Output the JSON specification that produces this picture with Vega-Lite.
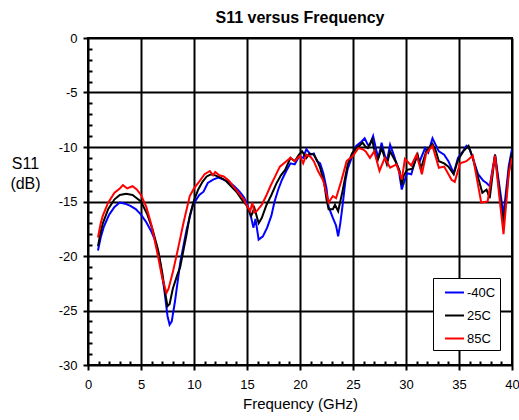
{
  "$schema": "https://vega.github.io/schema/vega-lite/v6.json",
  "width": 424,
  "height": 327,
  "autosize": "none",
  "padding": {"left": 88, "top": 38, "right": 7, "bottom": 55},
  "config": {
    "view": {"stroke": "black", "strokeWidth": 2},
    "font": "Liberation Sans",
    "axis": {"labelFont": "Liberation Sans", "titleFont": "Liberation Sans", "labelColor": "black", "titleColor": "black", "labelFontSize": 13, "titleFontSize": 15, "titleFontWeight": "normal", "domain": false, "tickColor": "black", "gridColor": "black", "gridWidth": 2, "labelOverlap": false, "labelFlush": false, "labelBound": false}
  },
  "title": {"text": "S11 versus Frequency", "fontSize": 16, "fontWeight": "bold", "font": "Liberation Sans", "color": "black", "offset": 6, "anchor": "middle"},
  "data": {"values": [
    {"t":"-40C","f":0.94,"s":-19.5},{"t":"-40C","f":1.2,"s":-18.3},{"t":"-40C","f":1.5,"s":-17.3},{"t":"-40C","f":2.0,"s":-16.2},{"t":"-40C","f":2.5,"s":-15.5},{"t":"-40C","f":3.0,"s":-15.1},{"t":"-40C","f":3.5,"s":-15.2},{"t":"-40C","f":4.0,"s":-15.4},{"t":"-40C","f":4.5,"s":-15.7},{"t":"-40C","f":5.0,"s":-16.2},{"t":"-40C","f":5.5,"s":-16.9},{"t":"-40C","f":6.0,"s":-17.8},{"t":"-40C","f":6.3,"s":-18.5},{"t":"-40C","f":6.7,"s":-20.0},{"t":"-40C","f":7.0,"s":-21.8},{"t":"-40C","f":7.2,"s":-23.1},{"t":"-40C","f":7.5,"s":-25.5},{"t":"-40C","f":7.7,"s":-26.3},{"t":"-40C","f":7.9,"s":-26.0},{"t":"-40C","f":8.2,"s":-24.2},{"t":"-40C","f":8.7,"s":-20.6},{"t":"-40C","f":9.3,"s":-17.6},{"t":"-40C","f":9.9,"s":-15.3},{"t":"-40C","f":10.5,"s":-14.4},{"t":"-40C","f":10.9,"s":-14.1},{"t":"-40C","f":11.3,"s":-13.3},{"t":"-40C","f":11.8,"s":-13.0},{"t":"-40C","f":12.3,"s":-12.8},{"t":"-40C","f":12.8,"s":-13.0},{"t":"-40C","f":13.3,"s":-13.2},{"t":"-40C","f":13.8,"s":-13.6},{"t":"-40C","f":14.3,"s":-14.1},{"t":"-40C","f":14.7,"s":-14.6},{"t":"-40C","f":15.0,"s":-15.2},{"t":"-40C","f":15.4,"s":-16.5},{"t":"-40C","f":15.6,"s":-17.4},{"t":"-40C","f":15.8,"s":-16.6},{"t":"-40C","f":16.1,"s":-18.5},{"t":"-40C","f":16.5,"s":-18.2},{"t":"-40C","f":16.9,"s":-17.4},{"t":"-40C","f":17.3,"s":-16.3},{"t":"-40C","f":17.6,"s":-15.0},{"t":"-40C","f":17.95,"s":-13.9},{"t":"-40C","f":18.3,"s":-13.0},{"t":"-40C","f":18.7,"s":-12.2},{"t":"-40C","f":19.1,"s":-11.5},{"t":"-40C","f":19.5,"s":-11.6},{"t":"-40C","f":19.9,"s":-10.9},{"t":"-40C","f":20.3,"s":-11.0},{"t":"-40C","f":20.6,"s":-10.2},{"t":"-40C","f":21.0,"s":-10.7},{"t":"-40C","f":21.3,"s":-10.6},{"t":"-40C","f":21.6,"s":-11.3},{"t":"-40C","f":21.9,"s":-11.5},{"t":"-40C","f":22.2,"s":-12.4},{"t":"-40C","f":22.5,"s":-13.8},{"t":"-40C","f":22.7,"s":-15.5},{"t":"-40C","f":23.1,"s":-16.5},{"t":"-40C","f":23.4,"s":-17.2},{"t":"-40C","f":23.6,"s":-18.2},{"t":"-40C","f":23.8,"s":-17.0},{"t":"-40C","f":24.0,"s":-15.5},{"t":"-40C","f":24.3,"s":-13.0},{"t":"-40C","f":24.5,"s":-12.0},{"t":"-40C","f":24.9,"s":-10.9},{"t":"-40C","f":25.3,"s":-9.9},{"t":"-40C","f":25.7,"s":-9.6},{"t":"-40C","f":26.1,"s":-9.2},{"t":"-40C","f":26.4,"s":-9.8},{"t":"-40C","f":26.6,"s":-9.8},{"t":"-40C","f":26.9,"s":-9.0},{"t":"-40C","f":27.2,"s":-10.3},{"t":"-40C","f":27.4,"s":-11.0},{"t":"-40C","f":27.7,"s":-9.6},{"t":"-40C","f":28.0,"s":-10.8},{"t":"-40C","f":28.2,"s":-11.3},{"t":"-40C","f":28.5,"s":-9.8},{"t":"-40C","f":28.8,"s":-10.6},{"t":"-40C","f":29.0,"s":-11.2},{"t":"-40C","f":29.3,"s":-12.0},{"t":"-40C","f":29.6,"s":-13.9},{"t":"-40C","f":30.1,"s":-12.4},{"t":"-40C","f":30.5,"s":-12.5},{"t":"-40C","f":31.0,"s":-10.8},{"t":"-40C","f":31.3,"s":-11.3},{"t":"-40C","f":31.8,"s":-10.1},{"t":"-40C","f":32.1,"s":-10.5},{"t":"-40C","f":32.5,"s":-9.2},{"t":"-40C","f":32.8,"s":-9.8},{"t":"-40C","f":33.1,"s":-10.4},{"t":"-40C","f":33.6,"s":-10.7},{"t":"-40C","f":34.0,"s":-11.3},{"t":"-40C","f":34.5,"s":-12.4},{"t":"-40C","f":34.9,"s":-11.0},{"t":"-40C","f":35.3,"s":-10.5},{"t":"-40C","f":35.7,"s":-9.9},{"t":"-40C","f":36.0,"s":-10.2},{"t":"-40C","f":36.3,"s":-11.0},{"t":"-40C","f":36.8,"s":-12.5},{"t":"-40C","f":37.3,"s":-13.1},{"t":"-40C","f":37.6,"s":-13.3},{"t":"-40C","f":37.9,"s":-13.6},{"t":"-40C","f":38.4,"s":-10.7},{"t":"-40C","f":38.8,"s":-13.5},{"t":"-40C","f":39.2,"s":-16.2},{"t":"-40C","f":39.7,"s":-11.7},{"t":"-40C","f":40.0,"s":-10.2},
    {"t":"25C","f":0.94,"s":-19.1},{"t":"25C","f":1.2,"s":-17.8},{"t":"25C","f":1.4,"s":-17.0},{"t":"25C","f":1.9,"s":-15.7},{"t":"25C","f":2.5,"s":-14.8},{"t":"25C","f":3.0,"s":-14.4},{"t":"25C","f":3.6,"s":-14.3},{"t":"25C","f":4.2,"s":-14.4},{"t":"25C","f":4.6,"s":-14.7},{"t":"25C","f":5.0,"s":-15.0},{"t":"25C","f":5.6,"s":-16.2},{"t":"25C","f":6.1,"s":-17.6},{"t":"25C","f":6.6,"s":-19.4},{"t":"25C","f":7.0,"s":-21.5},{"t":"25C","f":7.3,"s":-23.5},{"t":"25C","f":7.5,"s":-24.6},{"t":"25C","f":7.7,"s":-24.4},{"t":"25C","f":8.0,"s":-23.0},{"t":"25C","f":8.4,"s":-21.8},{"t":"25C","f":8.7,"s":-21.0},{"t":"25C","f":9.3,"s":-18.0},{"t":"25C","f":9.6,"s":-16.3},{"t":"25C","f":10.0,"s":-14.9},{"t":"25C","f":10.4,"s":-13.9},{"t":"25C","f":10.8,"s":-13.2},{"t":"25C","f":11.2,"s":-12.7},{"t":"25C","f":11.6,"s":-12.5},{"t":"25C","f":12.0,"s":-12.6},{"t":"25C","f":12.5,"s":-12.8},{"t":"25C","f":13.0,"s":-13.1},{"t":"25C","f":13.5,"s":-13.6},{"t":"25C","f":14.0,"s":-14.1},{"t":"25C","f":14.5,"s":-14.8},{"t":"25C","f":15.0,"s":-15.4},{"t":"25C","f":15.4,"s":-16.3},{"t":"25C","f":15.7,"s":-15.6},{"t":"25C","f":16.1,"s":-17.0},{"t":"25C","f":16.4,"s":-16.5},{"t":"25C","f":16.8,"s":-15.4},{"t":"25C","f":17.3,"s":-14.4},{"t":"25C","f":17.8,"s":-13.3},{"t":"25C","f":18.2,"s":-12.6},{"t":"25C","f":18.6,"s":-12.1},{"t":"25C","f":19.1,"s":-11.0},{"t":"25C","f":19.5,"s":-11.3},{"t":"25C","f":19.9,"s":-10.7},{"t":"25C","f":20.2,"s":-10.4},{"t":"25C","f":20.6,"s":-11.0},{"t":"25C","f":20.9,"s":-10.6},{"t":"25C","f":21.3,"s":-10.7},{"t":"25C","f":21.6,"s":-11.2},{"t":"25C","f":21.9,"s":-11.9},{"t":"25C","f":22.3,"s":-13.4},{"t":"25C","f":22.5,"s":-14.8},{"t":"25C","f":22.7,"s":-15.7},{"t":"25C","f":23.1,"s":-15.7},{"t":"25C","f":23.3,"s":-15.3},{"t":"25C","f":23.6,"s":-15.9},{"t":"25C","f":24.0,"s":-14.1},{"t":"25C","f":24.5,"s":-11.6},{"t":"25C","f":24.9,"s":-10.6},{"t":"25C","f":25.3,"s":-10.1},{"t":"25C","f":25.6,"s":-9.9},{"t":"25C","f":25.9,"s":-9.6},{"t":"25C","f":26.2,"s":-10.0},{"t":"25C","f":26.4,"s":-10.1},{"t":"25C","f":26.8,"s":-9.3},{"t":"25C","f":27.0,"s":-10.2},{"t":"25C","f":27.3,"s":-11.3},{"t":"25C","f":27.7,"s":-10.1},{"t":"25C","f":28.0,"s":-11.0},{"t":"25C","f":28.2,"s":-11.6},{"t":"25C","f":28.5,"s":-10.4},{"t":"25C","f":29.0,"s":-11.3},{"t":"25C","f":29.4,"s":-12.2},{"t":"25C","f":29.6,"s":-13.5},{"t":"25C","f":29.8,"s":-12.6},{"t":"25C","f":30.1,"s":-12.1},{"t":"25C","f":30.6,"s":-12.0},{"t":"25C","f":31.1,"s":-10.7},{"t":"25C","f":31.4,"s":-12.0},{"t":"25C","f":31.9,"s":-10.4},{"t":"25C","f":32.5,"s":-9.7},{"t":"25C","f":32.8,"s":-10.3},{"t":"25C","f":33.1,"s":-11.3},{"t":"25C","f":33.6,"s":-11.5},{"t":"25C","f":34.0,"s":-11.8},{"t":"25C","f":34.5,"s":-12.5},{"t":"25C","f":34.9,"s":-11.2},{"t":"25C","f":35.4,"s":-10.4},{"t":"25C","f":35.9,"s":-9.9},{"t":"25C","f":36.3,"s":-11.0},{"t":"25C","f":36.8,"s":-12.8},{"t":"25C","f":37.2,"s":-14.2},{"t":"25C","f":37.6,"s":-13.9},{"t":"25C","f":37.9,"s":-14.7},{"t":"25C","f":38.4,"s":-10.7},{"t":"25C","f":38.8,"s":-14.0},{"t":"25C","f":39.2,"s":-17.1},{"t":"25C","f":39.7,"s":-12.2},{"t":"25C","f":40.0,"s":-10.5},
    {"t":"85C","f":0.94,"s":-18.3},{"t":"85C","f":1.2,"s":-17.0},{"t":"85C","f":1.4,"s":-16.3},{"t":"85C","f":1.9,"s":-15.1},{"t":"85C","f":2.5,"s":-14.2},{"t":"85C","f":3.0,"s":-13.8},{"t":"85C","f":3.3,"s":-13.5},{"t":"85C","f":3.7,"s":-13.8},{"t":"85C","f":4.2,"s":-13.6},{"t":"85C","f":4.6,"s":-13.9},{"t":"85C","f":5.0,"s":-14.4},{"t":"85C","f":5.5,"s":-15.5},{"t":"85C","f":6.0,"s":-17.2},{"t":"85C","f":6.6,"s":-20.0},{"t":"85C","f":7.0,"s":-22.0},{"t":"85C","f":7.4,"s":-23.4},{"t":"85C","f":7.6,"s":-23.0},{"t":"85C","f":8.0,"s":-21.5},{"t":"85C","f":8.5,"s":-19.3},{"t":"85C","f":9.0,"s":-17.0},{"t":"85C","f":9.6,"s":-14.5},{"t":"85C","f":10.0,"s":-13.8},{"t":"85C","f":10.4,"s":-13.3},{"t":"85C","f":11.0,"s":-12.5},{"t":"85C","f":11.5,"s":-12.2},{"t":"85C","f":11.8,"s":-12.6},{"t":"85C","f":12.0,"s":-12.3},{"t":"85C","f":12.4,"s":-12.6},{"t":"85C","f":12.8,"s":-12.7},{"t":"85C","f":13.3,"s":-13.1},{"t":"85C","f":13.7,"s":-13.6},{"t":"85C","f":14.2,"s":-14.2},{"t":"85C","f":14.7,"s":-14.8},{"t":"85C","f":15.0,"s":-15.4},{"t":"85C","f":15.3,"s":-15.9},{"t":"85C","f":15.5,"s":-15.1},{"t":"85C","f":15.7,"s":-16.0},{"t":"85C","f":15.9,"s":-15.9},{"t":"85C","f":16.4,"s":-15.3},{"t":"85C","f":16.8,"s":-14.5},{"t":"85C","f":17.2,"s":-13.6},{"t":"85C","f":17.7,"s":-12.6},{"t":"85C","f":18.1,"s":-11.8},{"t":"85C","f":18.6,"s":-11.4},{"t":"85C","f":19.1,"s":-11.0},{"t":"85C","f":19.5,"s":-11.3},{"t":"85C","f":20.0,"s":-10.8},{"t":"85C","f":20.3,"s":-11.5},{"t":"85C","f":20.6,"s":-10.7},{"t":"85C","f":21.0,"s":-10.9},{"t":"85C","f":21.3,"s":-11.3},{"t":"85C","f":21.7,"s":-12.2},{"t":"85C","f":22.2,"s":-13.1},{"t":"85C","f":22.5,"s":-14.3},{"t":"85C","f":22.7,"s":-15.1},{"t":"85C","f":23.1,"s":-14.5},{"t":"85C","f":23.4,"s":-14.7},{"t":"85C","f":23.9,"s":-13.1},{"t":"85C","f":24.4,"s":-11.3},{"t":"85C","f":25.0,"s":-10.8},{"t":"85C","f":25.5,"s":-10.1},{"t":"85C","f":25.9,"s":-10.2},{"t":"85C","f":26.2,"s":-10.4},{"t":"85C","f":26.6,"s":-11.0},{"t":"85C","f":27.0,"s":-10.4},{"t":"85C","f":27.5,"s":-12.2},{"t":"85C","f":28.0,"s":-11.0},{"t":"85C","f":28.5,"s":-11.9},{"t":"85C","f":29.1,"s":-11.6},{"t":"85C","f":29.6,"s":-13.0},{"t":"85C","f":29.9,"s":-11.1},{"t":"85C","f":30.5,"s":-11.7},{"t":"85C","f":31.0,"s":-10.7},{"t":"85C","f":31.5,"s":-12.5},{"t":"85C","f":31.9,"s":-10.6},{"t":"85C","f":32.5,"s":-9.9},{"t":"85C","f":33.1,"s":-11.9},{"t":"85C","f":33.6,"s":-11.8},{"t":"85C","f":34.3,"s":-13.0},{"t":"85C","f":34.6,"s":-13.2},{"t":"85C","f":35.1,"s":-11.5},{"t":"85C","f":35.7,"s":-11.3},{"t":"85C","f":36.3,"s":-10.8},{"t":"85C","f":36.7,"s":-13.0},{"t":"85C","f":37.1,"s":-15.1},{"t":"85C","f":37.7,"s":-15.0},{"t":"85C","f":38.4,"s":-10.8},{"t":"85C","f":38.8,"s":-14.5},{"t":"85C","f":39.2,"s":-18.0},{"t":"85C","f":39.7,"s":-12.4},{"t":"85C","f":40.0,"s":-11.0}
  ]},
  "mark": {"type": "line", "strokeWidth": 2, "clip": true},
  "encoding": {
    "x": {"field": "f", "type": "quantitative", "scale": {"domain": [0, 40], "nice": false},
      "axis": {"title": "Frequency (GHz)", "values": [0,1,2,3,4,5,6,7,8,9,10,11,12,13,14,15,16,17,18,19,20,21,22,23,24,25,26,27,28,29,30,31,32,33,34,35,36,37,38,39,40],
        "labelExpr": "datum.value % 5 === 0 ? '' + datum.value : ''",
        "tickSize": {"condition": {"test": "datum.value % 5 === 0", "value": 5}, "value": -4},
        "tickWidth": 2,
        "gridOpacity": {"condition": {"test": "datum.value % 5 === 0", "value": 1}, "value": 0},
        "labelPadding": 8, "titlePadding": 5}},
    "y": {"field": "s", "type": "quantitative", "scale": {"domain": [-30, 0], "nice": false},
      "axis": {"title": ["S11", "(dB)"], "titleAngle": 0, "titleFontSize": 16, "titleX": -63, "titleY": 117, "titleAlign": "center", "titleBaseline": "top", "titleLineHeight": 20,
        "values": [-30,-29,-28,-27,-26,-25,-24,-23,-22,-21,-20,-19,-18,-17,-16,-15,-14,-13,-12,-11,-10,-9,-8,-7,-6,-5,-4,-3,-2,-1,0],
        "labelExpr": "datum.value % 5 === 0 ? '' + datum.value : ''",
        "tickSize": {"condition": {"test": "datum.value % 5 === 0", "value": 5}, "value": -4},
        "tickWidth": 2,
        "gridOpacity": {"condition": {"test": "datum.value % 5 === 0", "value": 1}, "value": 0},
        "labelPadding": 6}},
    "color": {"field": "t", "type": "nominal", "scale": {"domain": ["-40C", "25C", "85C"], "range": ["#0000ff", "#000000", "#ff0000"]},
      "legend": {"title": null, "orient": "none", "legendX": 345, "legendY": 240, "strokeColor": "black", "fillColor": "white", "padding": 4, "symbolType": "stroke", "symbolSize": 361, "symbolStrokeWidth": 2, "symbolOffset": 7, "labelOffset": 2, "labelFontSize": 13, "labelFont": "Liberation Sans", "labelColor": "black", "rowPadding": 5}}
  }
}
